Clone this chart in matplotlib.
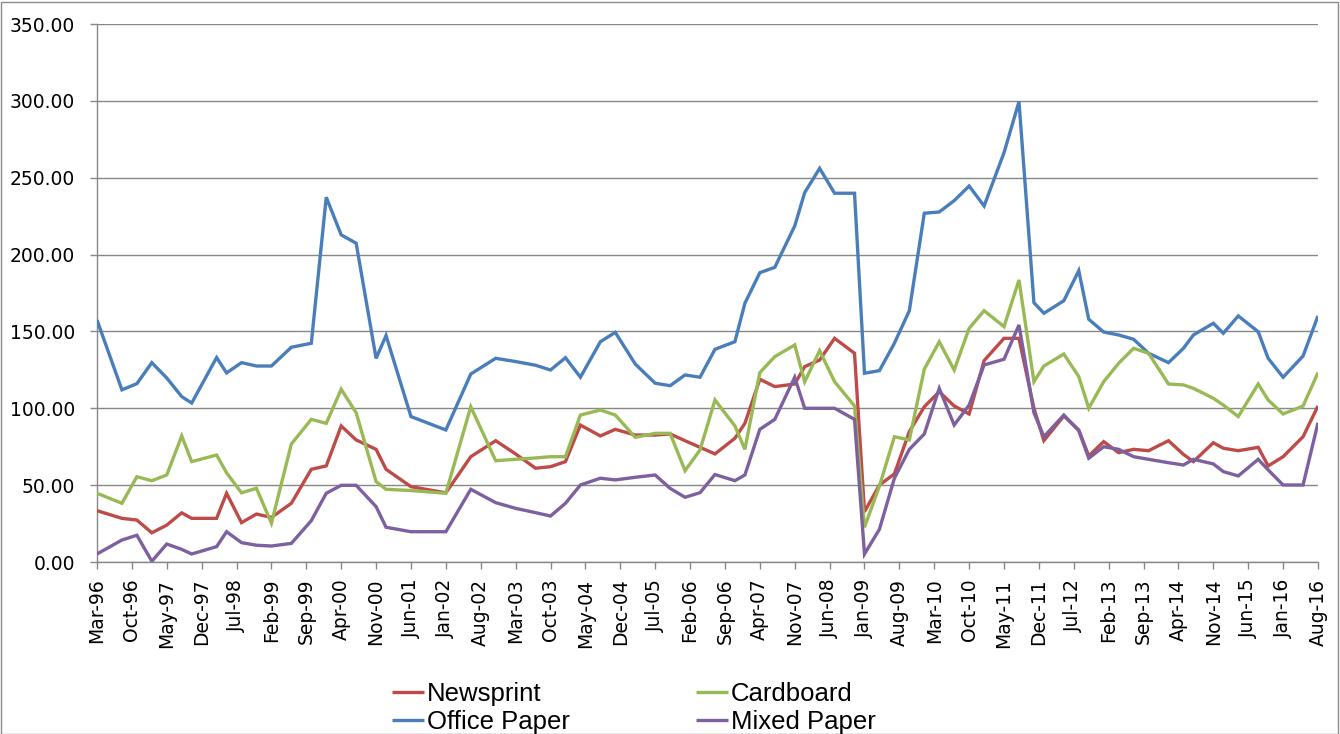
import matplotlib
matplotlib.use("Agg")
import matplotlib.pyplot as plt
from matplotlib.patches import Rectangle
from datetime import datetime

# Sample dates (year-month) shared by all four price series
dates = [
    "1996-03", "1996-08", "1996-11", "1997-02", "1997-05", "1997-08", "1997-10",
    "1998-03", "1998-05", "1998-08", "1998-11", "1999-02", "1999-06", "1999-10",
    "2000-01", "2000-04", "2000-07", "2000-11", "2001-01", "2001-06", "2002-01",
    "2002-06", "2002-11", "2003-03", "2003-07", "2003-10", "2004-01", "2004-04",
    "2004-08", "2004-11", "2005-03", "2005-07", "2005-10", "2006-01", "2006-04",
    "2006-07", "2006-11", "2007-01", "2007-04", "2007-07", "2007-11", "2008-01",
    "2008-04", "2008-07", "2008-11", "2009-01", "2009-04", "2009-07", "2009-10",
    "2010-01", "2010-04", "2010-07", "2010-10", "2011-01", "2011-05", "2011-08",
    "2011-11", "2012-01", "2012-05", "2012-08", "2012-10", "2013-01", "2013-04",
    "2013-07", "2013-10", "2014-02", "2014-05", "2014-07", "2014-11", "2015-01",
    "2015-04", "2015-08", "2015-10", "2016-01", "2016-05", "2016-08",
]

newsprint = [
    33.4, 28.4, 27.3, 19.0, 24.0, 32.0, 28.4, 28.4, 44.7, 25.6, 31.2, 29.0, 38.2,
    60.3, 62.5, 88.5, 79.4, 73.3, 60.3, 49.0, 45.0, 68.5, 78.9, 70.3, 61.0, 62.0,
    65.3, 89.1, 82.0, 86.3, 82.6, 82.6, 83.3, 78.9, 74.6, 70.3, 80.5, 90.2, 118.9,
    114.1, 115.8, 127.1, 131.4, 145.5, 135.8, 32.7, 50.1, 57.3, 84.8, 101.0, 110.8,
    101.5, 96.3, 131.0, 145.5, 145.5, 100.0, 79.0, 95.0, 85.9, 69.0, 78.3, 71.1,
    73.3, 72.4, 78.9, 70.0, 65.3, 77.6, 74.0, 72.4, 74.6, 62.5, 68.5, 81.5, 101.5,
]

office_paper = [
    157.4, 112.0, 116.0, 129.7, 119.7, 107.6, 103.4, 133.0, 123.0, 129.7, 127.5,
    127.5, 139.7, 142.3, 237.3, 212.8, 207.4, 132.5, 147.3, 94.6, 85.9, 122.3,
    132.5, 130.4, 128.0, 124.9, 132.9, 120.2, 143.3, 149.4, 128.8, 116.3, 114.7,
    121.7, 120.2, 138.4, 143.3, 168.3, 188.2, 191.7, 218.6, 240.3, 256.1, 239.9,
    239.9, 122.8, 124.5, 142.3, 163.5, 226.9, 227.7, 235.1, 244.6, 231.6, 266.3,
    299.5, 168.7, 161.8, 170.0, 189.5, 157.9, 149.6, 147.7, 144.9, 135.8, 129.7,
    139.0, 147.7, 155.3, 148.8, 160.1, 149.8, 132.5, 120.2, 134.0, 160.1,
]

cardboard = [
    44.7, 38.2, 55.5, 52.9, 56.6, 82.0, 65.3, 69.6, 58.0, 45.0, 48.0, 25.2, 76.8,
    92.8, 90.2, 112.4, 97.1, 52.3, 47.3, 46.5, 44.7, 101.0, 65.9, 66.8, 67.7, 68.5,
    68.5, 95.6, 98.9, 95.6, 81.1, 83.7, 83.7, 59.4, 72.9, 105.4, 88.5, 73.3, 123.2,
    133.6, 141.2, 117.3, 137.5, 117.3, 101.5, 22.6, 49.4, 81.5, 79.4, 125.4, 143.3,
    124.9, 152.0, 163.5, 153.1, 183.5, 117.3, 127.5, 135.3, 120.6, 100.0, 117.3,
    129.3, 139.0, 135.8, 115.8, 115.2, 113.0, 106.5, 102.1, 94.6, 115.8, 105.4,
    96.3, 101.5, 123.2,
]

mixed_paper = [
    5.2, 14.3, 17.4, 0.5, 11.7, 8.2, 5.2, 10.0, 19.7, 12.6, 10.9, 10.4, 12.1, 26.9,
    44.7, 49.9, 49.9, 36.0, 22.6, 19.7, 19.7, 47.3, 38.6, 34.9, 32.1, 29.9, 38.2,
    50.1, 54.5, 53.4, 55.1, 56.6, 47.9, 42.1, 45.1, 56.9, 52.9, 56.6, 86.3, 92.8,
    120.2, 100.0, 100.0, 100.0, 92.8, 5.2, 21.3, 54.5, 73.3, 83.3, 113.0, 89.1,
    102.1, 128.2, 131.9, 154.2, 97.1, 81.5, 95.6, 85.4, 67.5, 75.0, 73.3, 68.5,
    66.8, 64.6, 63.1, 66.8, 63.8, 58.8, 56.0, 66.8, 59.9, 50.1, 50.1, 90.6,
]

tick_labels = [
    "Mar-96", "Oct-96", "May-97", "Dec-97", "Jul-98", "Feb-99", "Sep-99", "Apr-00",
    "Nov-00", "Jun-01", "Jan-02", "Aug-02", "Mar-03", "Oct-03", "May-04", "Dec-04",
    "Jul-05", "Feb-06", "Sep-06", "Apr-07", "Nov-07", "Jun-08", "Jan-09", "Aug-09",
    "Mar-10", "Oct-10", "May-11", "Dec-11", "Jul-12", "Feb-13", "Sep-13", "Apr-14",
    "Nov-14", "Jun-15", "Jan-16", "Aug-16",
]

y_ticks = [0, 50, 100, 150, 200, 250, 300, 350]


def month_index(text, fmt):
    d = datetime.strptime(text, fmt)
    return (d.year - 1996) * 12 + (d.month - 3)


x = [month_index(d, "%Y-%m") for d in dates]
x_ticks = [month_index(t, "%b-%y") for t in tick_labels]

W, H = 1340, 734
fig = plt.figure(figsize=(W / 100, H / 100), dpi=100)
fig.patch.set_facecolor("white")

left, right, top, bottom = 97, 1318, 24, 562
ax = fig.add_axes([left / W, 1 - bottom / H, (right - left) / W, (bottom - top) / H])

grid_col = "#878787"
series = [
    (office_paper, "#4A7EBB", "Office Paper"),
    (newsprint, "#BE4B48", "Newsprint"),
    (cardboard, "#98B954", "Cardboard"),
    (mixed_paper, "#7D60A0", "Mixed Paper"),
]
handles = {}
for vals, col, name in series:
    (ln,) = ax.plot(x, vals, color=col, lw=2.4, solid_joinstyle="miter",
                    solid_capstyle="butt", zorder=3)
    handles[name] = ln

ax.set_xlim(x_ticks[0], x_ticks[-1])
ax.set_ylim(0, 350)
ax.set_yticks(y_ticks)
ax.set_yticklabels([f"{v:.2f}" for v in y_ticks], fontsize=13.5, family="DejaVu Sans")
ax.set_xticks(x_ticks)
ax.set_xticklabels(tick_labels, rotation=90, fontsize=13.5, family="DejaVu Sans")

ax.yaxis.grid(True, color=grid_col, lw=1.0, zorder=1)
ax.set_axisbelow(True)
for side in ("top", "right"):
    ax.spines[side].set_visible(False)
for side in ("left", "bottom"):
    ax.spines[side].set_color(grid_col)
    ax.spines[side].set_linewidth(1.0)
ax.tick_params(axis="y", direction="out", length=5, width=1, color=grid_col, pad=11)
ax.tick_params(axis="x", direction="out", length=5, width=1, color=grid_col, pad=7)

order = ["Newsprint", "Office Paper", "Cardboard", "Mixed Paper"]
fig.legend([handles[n] for n in order], order, ncol=2, loc="center",
           bbox_to_anchor=(634 / W, 1 - 708 / H), frameon=False,
           prop={"family": "Liberation Sans", "size": 18.5},
           handlelength=1.25, handletextpad=0.12, columnspacing=4.9,
           labelspacing=0.15, borderpad=0, borderaxespad=0)

fig.add_artist(Rectangle((1 / W, 0), (W - 3) / W, 1 - 1.5 / H,
                         transform=fig.transFigure, fill=False,
                         edgecolor="#8c8c8c", lw=1.0))

fig.savefig("out.png", dpi=100, facecolor="white")
